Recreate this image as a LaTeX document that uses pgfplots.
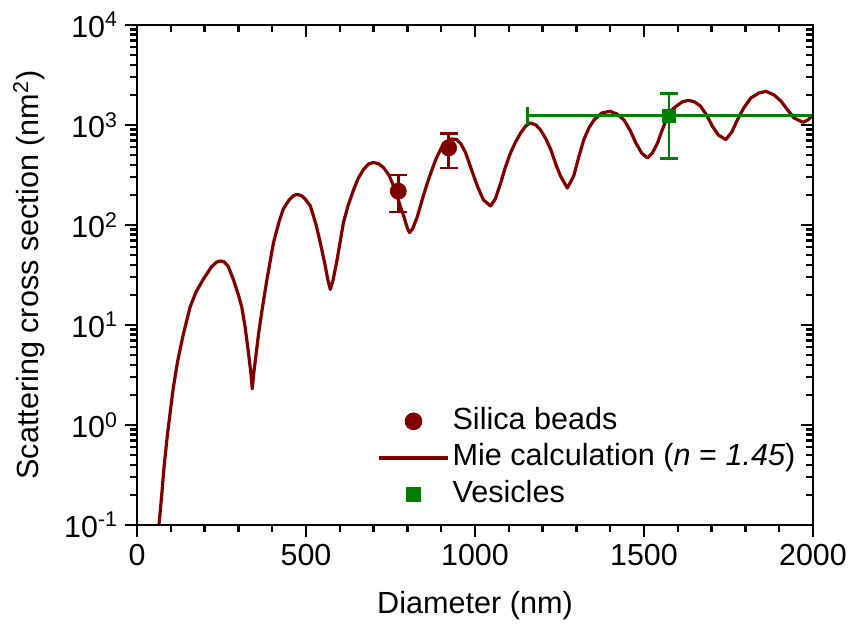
\documentclass[border=0pt]{standalone}
\usepackage{fontspec}
\setmainfont{Liberation Sans}
\usepackage{pgfplots}
\usepackage{pgfplotstable}
\pgfplotsset{compat=1.18}
\definecolor{mie}{RGB}{128,0,0}
\definecolor{ves}{RGB}{0,128,0}

\pgfplotstableread{
d s
65 0.1
72 0.18
80 0.38
90 0.8
100 1.5
107 2.3
120 4.3
136 7.8
157 15.1
175 21.5
196 28.6
220 38
235 42.5
246 43.6
258 42.8
270 38.5
285 28.6
300 20
310 15.1
320 9.5
330 5.2
337 3.3
341 2.3
345 3.2
352 5.0
360 8.3
370 14.1
384 28
404 67
420 107
433 145
450 178
463 197
473 202
485 198
497 183
513 155
530 100
542 67
555 42
565 28
572 22.7
580 28
592 45
611 107
625 158
641 226
655 295
670 359
685 407
700 422
715 410
730 372
745 317
757 255
769 195
789 123
800 93
806 84
815 91
829 120
847 195
860 269
873 359
885 460
898 569
915 678
930 724
945 718
958 650
972 530
990 355
1007 245
1025 178
1046 155
1060 182
1076 263
1090 380
1105 525
1120 676
1135 832
1150 977
1164 1047
1180 1000
1194 891
1210 724
1224 569
1240 398
1253 309
1273 234
1292 309
1307 479
1322 714
1337 933
1352 1122
1375 1318
1399 1371
1420 1288
1441 1122
1460 871
1476 661
1493 525
1510 468
1525 525
1540 661
1555 912
1570 1222
1585 1445
1600 1585
1615 1718
1633 1762
1650 1698
1667 1549
1685 1259
1702 977
1720 794
1742 714
1760 851
1776 1122
1795 1479
1816 1862
1840 2089
1861 2168
1885 1995
1905 1738
1925 1413
1944 1175
1970 1064
1985 1122
2000 1259
}\mietable

\newcommand{\tickfont}{\fontsize{15.2}{18}\selectfont}
\newcommand{\labfont}{\fontsize{15.3}{18}\selectfont}

\begin{document}
\begin{tikzpicture}
\begin{semilogyaxis}[
  width=338pt, height=250pt, scale only axis,
  xmin=0, xmax=2000, ymin=0.1, ymax=10000,
  axis line style={line width=1.3pt},
  xtick={0,500,1000,1500,2000},
  minor xtick={100,200,300,400,600,700,800,900,1100,1200,1300,1400,1600,1700,1800,1900},
  ytick={0.1,1,10,100,1000,10000},
  minor ytick={0.2,0.3,0.4,0.5,0.6,0.7,0.8,0.9,2,3,4,5,6,7,8,9,20,30,40,50,60,70,80,90,200,300,400,500,600,700,800,900,2000,3000,4000,5000,6000,7000,8000,9000},
  major tick length=6pt, minor tick length=3.5pt,
  every tick/.style={black, line width=1.2pt},
  xtick pos=left, ytick pos=left, tick align=outside,
  xticklabels={0,500,1000,1500,2000},
  yticklabels={10\textsuperscript{-1},10\textsuperscript{0},10\textsuperscript{1},10\textsuperscript{2},10\textsuperscript{3},10\textsuperscript{4}},
  ticklabel style={font=\tickfont},
  xlabel={Diameter (nm)},
  ylabel={Scattering cross section (nm\textsuperscript{2})},
  label style={font=\labfont},
  xlabel style={at={(rel axis cs:0.5,0)}, anchor=center, yshift=-40.5pt},
  ylabel style={at={(rel axis cs:0,0.5)}, anchor=center, yshift=54pt},
  legend image code/.code={\draw[mark repeat=2,mark phase=2,#1] plot coordinates {(0pt,0pt) (17.25pt,0pt) (34.5pt,0pt)};},
  legend style={draw=none, fill=none, at={(rel axis cs:0.355,0.245)}, anchor=north west,
    inner sep=0pt, font=\labfont, row sep=0pt,
    nodes={inner sep=1.5pt, text height=11.6pt, text depth=3.8pt}},
  legend cell align=left,
]
\coordinate (sw) at (rel axis cs:0,0);
\coordinate (ne) at (rel axis cs:1,1);
\addlegendimage{only marks, mark=*, mark size=4.2pt, color=mie}
\addlegendentry{Silica beads}
\addlegendimage{mie, line width=1.6pt}
\addlegendentry{Mie calculation (\textit{n} = \textit{1.45})}
\addlegendimage{only marks, mark=square*, mark size=3.5pt, color=ves}
\addlegendentry{Vesicles}

\addplot[forget plot, mie, line width=1.6pt, line join=round] table[x=d, y=s] {\mietable};

\addplot[forget plot, mie, line width=1.3pt, mark=-, mark size=4.5pt, mark options={solid, line width=1.3pt}] coordinates {(773,135) (773,315)};
\addplot[forget plot, mie, line width=1.3pt, mark=-, mark size=4.5pt, mark options={solid, line width=1.3pt}] coordinates {(922,373) (922,821)};
\addplot[forget plot, only marks, mark=*, mark size=4pt, color=mie] coordinates {(773,218) (922,591)};

\addplot[forget plot, ves, line width=1.3pt, mark=-, mark size=4.5pt, mark options={solid, line width=1.3pt}] coordinates {(1574,462) (1574,2056)};
\addplot[forget plot, ves, line width=1.3pt, mark=|, mark size=4.5pt, mark options={solid, line width=1.3pt}] coordinates {(1156,1242) (2000,1242)};
\addplot[forget plot, only marks, mark=square*, mark size=3.3pt, color=ves] coordinates {(1574,1242)};
\end{semilogyaxis}
\begin{semilogyaxis}[
  width=338pt, height=250pt, scale only axis,
  xmin=0, xmax=2000, ymin=0.1, ymax=10000,
  axis line style={line width=1.3pt},
  xtick={0,500,1000,1500,2000},
  minor xtick={100,200,300,400,600,700,800,900,1100,1200,1300,1400,1600,1700,1800,1900},
  ytick={0.1,1,10,100,1000,10000},
  minor ytick={0.2,0.3,0.4,0.5,0.6,0.7,0.8,0.9,2,3,4,5,6,7,8,9,20,30,40,50,60,70,80,90,200,300,400,500,600,700,800,900,2000,3000,4000,5000,6000,7000,8000,9000},
  major tick length=6pt, minor tick length=3.5pt,
  every tick/.style={black, line width=1.2pt},
  xtick pos=right, ytick pos=right, tick align=inside,
  xticklabels={}, yticklabels={}]
\addplot[draw=none, forget plot] coordinates {(1000,10)};
\end{semilogyaxis}
\pgfresetboundingbox
\path (sw) ++(-68.5pt,-53pt) coordinate (bl);
\path (ne) ++(19.5pt,12.5pt) coordinate (tr);
\useasboundingbox (bl) rectangle (tr);
\end{tikzpicture}
\end{document}
